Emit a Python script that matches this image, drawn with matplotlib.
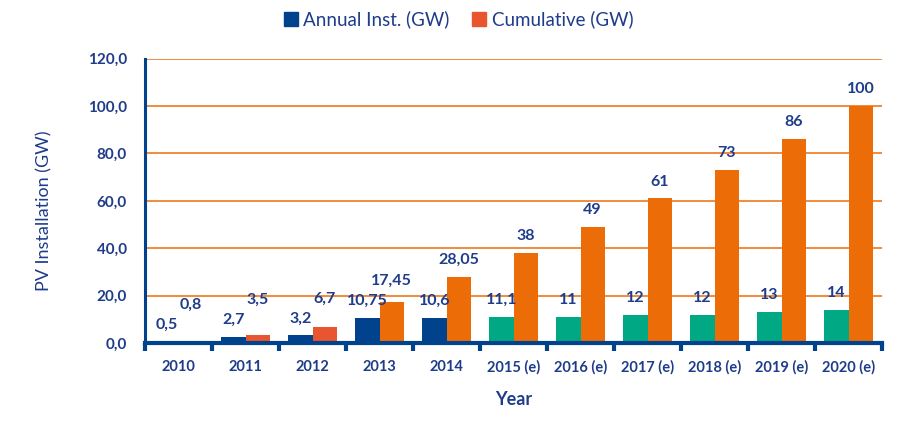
import matplotlib
matplotlib.use("Agg")
import matplotlib.pyplot as plt
from matplotlib.patches import Patch
import numpy as np

plt.rcParams['font.family'] = ['Lato', 'DejaVu Sans']

years = ["2010", "2011", "2012", "2013", "2014", "2015 (e)", "2016 (e)",
         "2017 (e)", "2018 (e)", "2019 (e)", "2020 (e)"]
annual = [0.5, 2.7, 3.2, 10.75, 10.6, 11.1, 11, 12, 12, 13, 14]
cumulative = [0.8, 3.5, 6.7, 17.45, 28.05, 38, 49, 61, 73, 86, 100]
yticks = [0, 20, 40, 60, 80, 100, 120]

BLUE = "#00438C"
GREEN = "#00A884"
ORANGE = "#EC6C08"
RED = "#E8552E"
TEXT = "#1E3C8A"

annual_colors = [BLUE] * 5 + [GREEN] * 6
cum_colors = [BLUE, RED, RED] + [ORANGE] * 8

def fmt(v):
    if float(v) == int(v):
        return str(int(v))
    return ("%g" % v).replace(".", ",")

fig = plt.figure(figsize=(9.08, 4.22), dpi=100)
ax = fig.add_axes([0.1597, 0.1872, 0.9714 - 0.1597, 0.861 - 0.1872])

x = np.arange(len(years))
w = 0.36
for y in yticks[1:]:
    ax.axhline(y, color=ORANGE, lw=1.1, zorder=1)
ax.bar(x - w / 2, annual, w, color=annual_colors, zorder=2)
ax.bar(x + w / 2, cumulative, w, color=cum_colors, zorder=2)

for xi, v in zip(x, annual):
    ax.annotate(fmt(v), (xi - w / 2, v), xytext=(0, 7), textcoords="offset points",
                ha="center", va="bottom", fontsize=11.5, fontweight="bold", color=TEXT)
for xi, a, v in zip(x, annual, cumulative):
    ax.annotate(fmt(v), (xi + w / 2, max(v, a + 8.5)), xytext=(0, 7),
                textcoords="offset points", ha="center", va="bottom",
                fontsize=11.5, fontweight="bold", color=TEXT)

ax.set_xlim(-0.5, len(years) - 0.5)
ax.set_ylim(0, 120)
ax.set_yticks(yticks)
ax.set_yticklabels([("%.1f" % t).replace(".", ",") for t in yticks],
                   fontsize=11, fontweight="bold", color=TEXT)
ax.set_xticks(x)
ax.set_xticklabels(years, fontsize=10.5, fontweight="bold", color=TEXT)
ax.set_xticks(np.arange(len(years) + 1) - 0.5, minor=True)
ax.tick_params(axis="x", which="major", length=0, pad=12)
ax.tick_params(axis="x", which="minor", length=6, width=3, color=BLUE, direction="out")
ax.tick_params(axis="y", length=0, pad=13)

for s in ["top", "right"]:
    ax.spines[s].set_visible(False)
ax.spines["bottom"].set_color(BLUE)
ax.spines["bottom"].set_linewidth(3)
ax.spines["left"].set_color(BLUE)
ax.spines["left"].set_linewidth(2.2)

ax.set_ylabel("PV Installation (GW)", fontsize=13, color=TEXT)
ax.yaxis.set_label_coords(-0.126, 0.464)
ax.set_xlabel("Year", fontsize=13, fontweight="bold", color=TEXT, labelpad=12)

handles = [Patch(color=BLUE, label="Annual Inst. (GW)"),
           Patch(color=RED, label="Cumulative (GW)")]
leg = fig.legend(handles=handles, loc="upper center", bbox_to_anchor=(0.505, 1.015),
                 ncol=2, frameon=False, fontsize=13.5, handlelength=0.75,
                 handleheight=0.75, handletextpad=0.3, columnspacing=1.2)
for t in leg.get_texts():
    t.set_color(TEXT)

fig.savefig("out.png", dpi=100)
